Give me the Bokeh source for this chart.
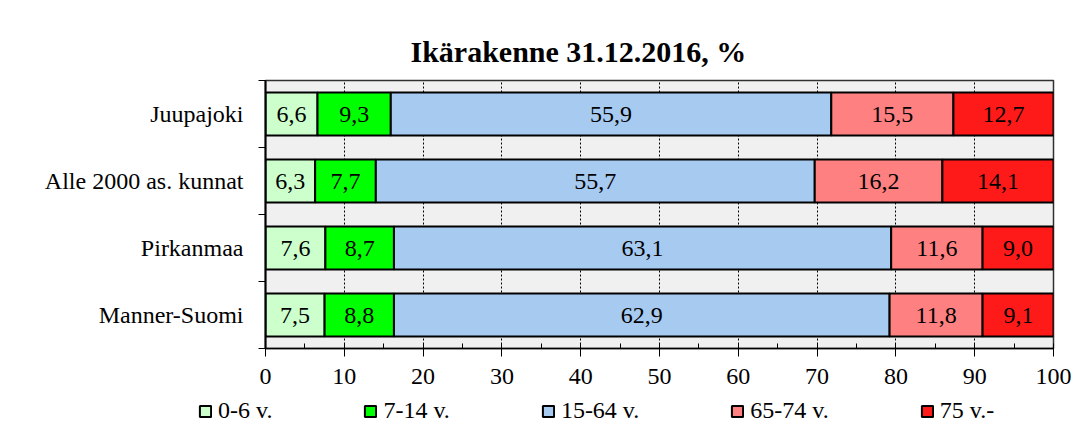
from bokeh.plotting import figure
from bokeh.layouts import column
from bokeh.models import FixedTicker, Legend, LegendItem, ColumnDataSource, Range1d
from bokeh.core.properties import value
from bokeh.embed import file_html
from bokeh.resources import INLINE

categories = ["Juupajoki", "Alle 2000 as. kunnat", "Pirkanmaa", "Manner-Suomi"]
series = ["0-6 v.", "7-14 v.", "15-64 v.", "65-74 v.", "75 v.-"]
v0_6 = [6.6, 6.3, 7.6, 7.5]
v7_14 = [9.3, 7.7, 8.7, 8.8]
v15_64 = [55.9, 55.7, 63.1, 62.9]
v65_74 = [15.5, 16.2, 11.6, 11.8]
v75 = [12.7, 14.1, 9.0, 9.1]
colors = ["#ccffcc", "#00ff00", "#a6caf0", "#ff8080", "#ff1a1a"]
x_ticks = list(range(0, 101, 10))
x_minor = list(range(0, 101, 5))

FONT = "Liberation Serif"
n = len(categories)
ypos = [n - 0.5 - i for i in range(n)]

p = figure(width=1088, height=397, output_backend="svg", toolbar_location=None,
           x_range=Range1d(0, 100), y_range=Range1d(0, n),
           min_border_left=265, min_border_right=35, min_border_top=80, min_border_bottom=49)
p.frame_align = False
p.background_fill_color = "#f0f0f0"
p.border_fill_color = "white"
p.outline_line_color = "#303030"
p.outline_line_width = 1.5

p.title.text = "Ikärakenne 31.12.2016, %"
p.title.align = "left"
p.title.offset = 145
p.title.standoff = 25
p.title.text_font = FONT
p.title.text_font_size = "30px"
p.title.text_font_style = "bold"
p.title.text_color = "black"

# x axis
p.xaxis.ticker = FixedTicker(ticks=x_ticks, minor_ticks=x_minor)
p.xaxis.major_tick_in = 4
p.xaxis.major_tick_out = 8
p.xaxis.minor_tick_in = 5
p.xaxis.minor_tick_out = 0
p.xaxis.axis_line_color = "black"
p.xaxis.axis_line_width = 1.5
p.xaxis.major_tick_line_color = "black"
p.xaxis.minor_tick_line_color = "black"
p.xaxis.major_label_text_font = FONT
p.xaxis.major_label_text_font_size = "24px"
p.xaxis.major_label_text_color = "black"
p.xaxis.major_label_standoff = 12

# y axis: labels at centers, ticks at band boundaries
p.yaxis.ticker = FixedTicker(ticks=ypos, minor_ticks=list(range(n + 1)))
p.yaxis.major_label_overrides = {y: c for y, c in zip(ypos, categories)}
p.yaxis.major_tick_line_color = None
p.yaxis.major_tick_in = 0
p.yaxis.major_tick_out = 0
p.yaxis.minor_tick_in = 0
p.yaxis.minor_tick_out = 7
p.yaxis.minor_tick_line_color = "black"
p.yaxis.axis_line_color = "black"
p.yaxis.axis_line_width = 2
p.yaxis.major_label_text_font = FONT
p.yaxis.major_label_text_font_size = "24px"
p.yaxis.major_label_text_color = "black"
p.yaxis.major_label_standoff = 15

p.xgrid.ticker = FixedTicker(ticks=x_ticks)
p.xgrid.grid_line_color = "black"
p.xgrid.grid_line_dash = "2 2"
p.xgrid.grid_line_width = 1
p.ygrid.grid_line_color = None

vals = [v0_6, v7_14, v15_64, v65_74, v75]
left = [0.0] * n
for name, v, col in zip(series, vals, colors):
    right = [l + x for l, x in zip(left, v)]
    src = ColumnDataSource(dict(y=ypos, left=left, right=right,
                                mid=[(l + r) / 2 for l, r in zip(left, right)],
                                lab=[f"{x:.1f}".replace(".", ",") for x in v]))
    p.hbar(y="y", left="left", right="right", height=0.64, source=src,
           fill_color=col, line_color="black", line_width=2)
    p.text(x="mid", y="y", text="lab", source=src, text_align="center",
           text_baseline="middle", text_font=value(FONT), text_font_size="24px",
           text_color="black")
    left = right

# legend strip below the chart (own small figure, swatch renderers lie outside its range)
lg = figure(width=1088, height=33, output_backend="svg", toolbar_location=None,
            x_range=Range1d(0, 1), y_range=Range1d(0, 1),
            min_border_left=0, min_border_right=0, min_border_top=0, min_border_bottom=0)
lg.frame_align = False
lg.axis.visible = False
lg.grid.visible = False
lg.outline_line_color = None
lg.background_fill_color = "white"
lg.border_fill_color = "white"
items = []
for name, col in zip(series, colors):
    r = lg.hbar(y=[-10], left=[0], right=[0], height=0.5,
                fill_color=col, line_color="black", line_width=2)
    items.append(LegendItem(label=name, renderers=[r]))
legend = Legend(items=items, orientation="horizontal", location=(198, 6),
                glyph_width=14, glyph_height=14, label_standoff=6, spacing=91,
                padding=0, margin=0, background_fill_alpha=0.0, border_line_color=None,
                label_text_font=FONT, label_text_font_size="24px",
                label_text_color="black")
lg.add_layout(legend, "center")

layout = column(p, lg, spacing=0)
open("out.html", "w").write(file_html(layout, INLINE))
